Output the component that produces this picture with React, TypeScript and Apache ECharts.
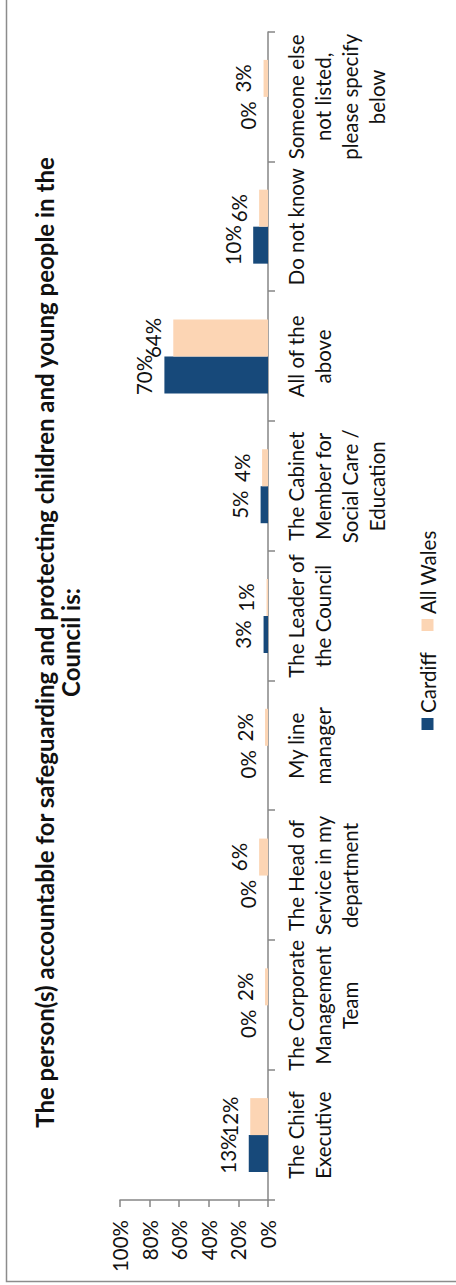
import React, { useEffect, useRef } from "react";
import * as echarts from "echarts";

const PAGE_W = 456;
const PAGE_H = 1285;

const titleText =
  "The person(s) accountable for safeguarding and protecting children and young people in the\nCouncil is:";

const categories = [
  "The Chief\nExecutive",
  "The Corporate\nManagement\nTeam",
  "The Head of\nService in my\ndepartment",
  "My line\nmanager",
  "The Leader of\nthe Council",
  "The Cabinet\nMember for\nSocial Care /\nEducation",
  "All of the\nabove",
  "Do not know",
  "Someone else\nnot listed,\nplease specify\nbelow",
];

const seriesNames = ["Cardiff", "All Wales"];
const cardiff = [13, 0, 0, 0, 3, 5, 70, 10, 0];
const allWales = [12, 2, 6, 2, 1, 4, 64, 6, 3];

const FONT = "Lato";
const TEXT = "#111111";
const AXIS = "#868686";
const FS = 20.5;

export default function App() {
  const ref = useRef<HTMLDivElement>(null);

  useEffect(() => {
    if (!ref.current) return;
    const chart = echarts.init(ref.current, null, { renderer: "svg" });
    const labelStyle = {
      show: true,
      position: "top" as const,
      distance: 10,
      formatter: "{c}%",
      fontFamily: FONT,
      fontSize: FS,
      color: TEXT,
    };
    chart.setOption({
      animation: false,
      backgroundColor: "#ffffff",
      title: {
        text: titleText,
        left: "center",
        top: 31,
        padding: 0,
        textStyle: {
          fontFamily: FONT,
          fontWeight: "bold",
          fontSize: 24,
          lineHeight: 26,
          color: TEXT,
        },
      },
      graphic: [
        {
          type: "rect",
          left: 1,
          top: 4,
          z: 100,
          shape: { x: 0, y: 0, width: 1283, height: 470 },
          style: { fill: "none", stroke: "#8c8c8c", lineWidth: 1.5 },
          silent: true,
        },
      ],
      legend: {
        data: seriesNames,
        left: 550,
        top: 412,
        itemWidth: 12,
        itemHeight: 12,
        itemGap: 21,
        icon: "rect",
        textStyle: { fontFamily: FONT, fontSize: FS, color: TEXT },
      },
      grid: { left: 85, right: 32, top: 120, bottom: 188, containLabel: false },
      xAxis: {
        type: "category",
        data: categories,
        axisLine: { show: true, lineStyle: { color: AXIS, width: 1.5 } },
        axisTick: { show: true, length: 7, lineStyle: { color: AXIS, width: 1.5 } },
        axisLabel: {
          interval: 0,
          margin: 14,
          fontFamily: FONT,
          fontSize: FS,
          lineHeight: 27,
          color: TEXT,
          align: "center",
        },
      },
      yAxis: {
        type: "value",
        min: 0,
        max: 100,
        interval: 20,
        axisLine: { show: true, lineStyle: { color: AXIS, width: 1.5 } },
        axisTick: { show: true, length: 7, lineStyle: { color: AXIS, width: 1.5 } },
        splitLine: { show: false },
        axisLabel: {
          formatter: "{value}%",
          margin: 20,
          fontFamily: FONT,
          fontSize: FS,
          color: TEXT,
        },
      },
      series: [
        {
          name: seriesNames[0],
          type: "bar",
          data: cardiff,
          barGap: "0%",
          barCategoryGap: "43%",
          itemStyle: { color: "#17497a" },
          label: labelStyle,
        },
        {
          name: seriesNames[1],
          type: "bar",
          data: allWales,
          barGap: "0%",
          barCategoryGap: "43%",
          itemStyle: { color: "#fcd5b4" },
          label: labelStyle,
        },
      ],
    });
    return () => chart.dispose();
  }, []);

  return (
    <div
      style={{
        position: "absolute",
        left: 0,
        top: 0,
        width: PAGE_W,
        height: PAGE_H,
        overflow: "hidden",
        background: "#fff",
      }}
    >
      <div
        ref={ref}
        style={{
          position: "absolute",
          left: 0,
          top: 0,
          width: PAGE_H,
          height: PAGE_W,
          transformOrigin: "0 0",
          transform: `translate(0px, ${PAGE_H}px) rotate(-90deg)`,
        }}
      />
    </div>
  );
}
